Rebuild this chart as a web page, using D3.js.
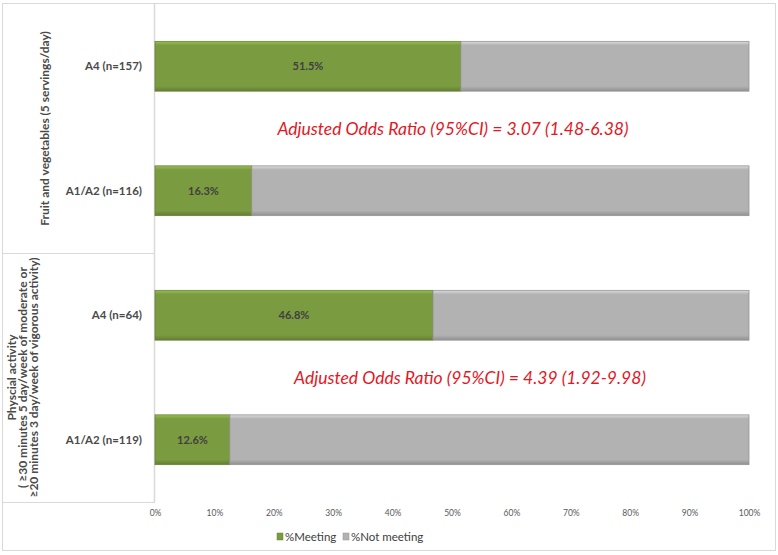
<!DOCTYPE html>
<html><head><meta charset="utf-8">
<script src="https://cdn.jsdelivr.net/npm/d3@7"></script>
<style>body{margin:0;background:#fff;} svg{display:block;font-family:Lato,"Open Sans",sans-serif;}</style>
</head><body><svg id="c" width="778" height="555"></svg>
<script>
const rows = ["A4 (n=157)", "A1/A2 (n=116)", "A4 (n=64)", "A1/A2 (n=119)"];
const meeting = [51.5, 16.3, 46.8, 12.6];
const notMeeting = [48.5, 83.7, 53.2, 87.4];
const groups = [
  {lines: ["Fruit and vegetables (5 servings/day)"], rows: [0, 1]},
  {lines: ["Physcial activity", "( \u226530 minutes 5 day/week of moderate or", "\u226520 minutes 3 day/week of vigorous activity)"], rows: [2, 3]}
];
const annotations = ["Adjusted Odds Ratio (95%CI) = 3.07 (1.48-6.38)", "Adjusted Odds Ratio (95%CI) = 4.39 (1.92-9.98)"];
const ticks = [0, 10, 20, 30, 40, 50, 60, 70, 80, 90, 100];
const seriesNames = ["%Meeting", "%Not meeting"];
const colors = ["#7b9b41", "#b2b2b2"];

const svg = d3.select("#c");
const x = d3.scaleLinear().domain([0, 100]).range([155, 749]);
const y = d3.scaleBand().domain(rows).range([4, 502]).paddingInner(0.6).paddingOuter(0.3);

const defs = svg.append("defs");
function grad(id, c) {
  const g = defs.append("linearGradient").attr("id", id).attr("x1", 0).attr("x2", 0).attr("y1", 0).attr("y2", 1);
  const col = d3.color(c);
  g.append("stop").attr("offset", "0").attr("stop-color", col.brighter(0.6));
  g.append("stop").attr("offset", "0.08").attr("stop-color", c);
  g.append("stop").attr("offset", "0.9").attr("stop-color", c);
  g.append("stop").attr("offset", "1").attr("stop-color", col.darker(0.6));
}
grad("g0", colors[0]); grad("g1", colors[1]);

// borders
svg.append("rect").attr("x", 2.5).attr("y", 3.5).attr("width", 773).attr("height", 547)
  .attr("fill", "none").attr("stroke", "#d9d9d9");
svg.append("line").attr("x1", x(0) - 0.5).attr("x2", x(0) - 0.5).attr("y1", 3.5).attr("y2", 502)
  .attr("stroke", "#d9d9d9").attr("stroke-width", 1.5);
[ (y(rows[1]) + y.bandwidth() + y(rows[2])) / 2, 502 ].forEach(v => {
  svg.append("line").attr("x1", 2.5).attr("x2", x(0)).attr("y1", Math.round(v) + 0.5).attr("y2", Math.round(v) + 0.5)
    .attr("stroke", "#d9d9d9");
});

// stacked bars
const stackData = rows.map((r, i) => ({row: r, m: meeting[i], n: notMeeting[i]}));
const stack = d3.stack().keys(["m", "n"])(stackData);
stack.forEach((layer, li) => {
  const g = svg.append("g");
  g.selectAll("rect").data(layer).join("rect")
    .attr("x", d => x(d[0])).attr("y", d => y(d.data.row))
    .attr("width", d => x(d[1]) - x(d[0])).attr("height", y.bandwidth())
    .attr("fill", `url(#g${li})`)
    .attr("stroke", d3.color(colors[li]).darker(0.5)).attr("stroke-width", 0.8);
});
svg.selectAll(".lbl").data(stackData).join("text")
  .attr("x", d => x(d.m / 2)).attr("y", d => y(d.row) + y.bandwidth() / 2 + 4)
  .attr("text-anchor", "middle").attr("font-size", 11).attr("font-weight", "bold").attr("fill", "#404040")
  .text(d => d.m.toFixed(1) + "%");

// row labels
svg.selectAll(".rl").data(rows).join("text")
  .attr("x", 142).attr("y", d => y(d) + y.bandwidth() / 2 + 4)
  .attr("text-anchor", "end").attr("font-size", 11.5).attr("font-weight", "bold").attr("fill", "#4a4a4a")
  .text(d => d);

// group labels
groups.forEach(gr => {
  const top = y(rows[gr.rows[0]]), bot = y(rows[gr.rows[1]]) + y.bandwidth();
  const cy = (top + bot) / 2;
  const n = gr.lines.length;
  const cx = n === 1 ? 45 : 23;
  const t = svg.append("text").attr("transform", `translate(${cx},${cy}) rotate(-90)`)
    .attr("text-anchor", "middle").attr("font-size", 12).attr("font-weight", "bold").attr("fill", "#4a4a4a");
  gr.lines.forEach((l, i) => {
    t.append("tspan").attr("x", 0).attr("y", (i - (n - 1) / 2) * 11 + 4).text(l);
  });
});

// annotations
const annX = [453, 470];
annotations.forEach((a, i) => {
  const r0 = y(rows[i * 2]) + y.bandwidth(), r1 = y(rows[i * 2 + 1]);
  svg.append("text").attr("x", annX[i]).attr("y", (r0 + r1) / 2 + 6)
    .attr("text-anchor", "middle").attr("font-size", 17.5).attr("font-style", "italic").attr("fill", "#e3171f")
    .text(a);
});

// x axis
const ax = svg.append("g").attr("transform", "translate(0,502)")
  .call(d3.axisBottom(x).tickValues(ticks).tickFormat(d => d + "%").tickSize(0).tickPadding(8));
ax.select(".domain").remove();
ax.selectAll("text").attr("font-size", 8.5).attr("fill", "#595959").attr("font-family", "Lato,sans-serif");

// legend
const leg = svg.append("g").attr("transform", "translate(277,533)");
const lx = [0, 66];
seriesNames.forEach((s, i) => {
  const g = leg.append("g").attr("transform", `translate(${lx[i]},0)`);
  g.append("rect").attr("width", 6).attr("height", 7).attr("fill", colors[i]).attr("stroke", d3.color(colors[i]).darker(0.5)).attr("stroke-width", 0.5);
  g.append("text").attr("x", 8).attr("y", 7.5).attr("font-size", 11.5).attr("fill", "#404040").text(s);
});
</script></body></html>
